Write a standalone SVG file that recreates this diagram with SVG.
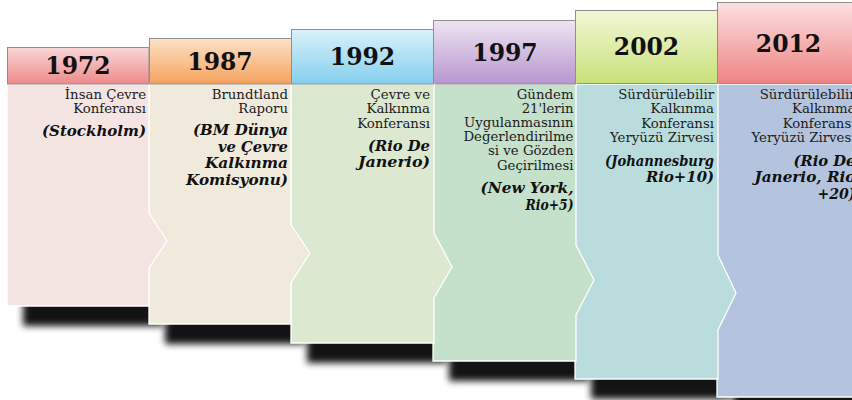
<svg xmlns="http://www.w3.org/2000/svg" width="852" height="400" viewBox="0 0 852 400">
<defs>
<filter id="sh" x="-20%" y="-60%" width="140%" height="220%"><feGaussianBlur stdDeviation="3.5"/></filter>
<linearGradient id="g1" x1="0" y1="0" x2="0" y2="1"><stop offset="0" stop-color="#f9d6d6"/><stop offset="1" stop-color="#ee8a8b"/></linearGradient>
<linearGradient id="g2" x1="0" y1="0" x2="0" y2="1"><stop offset="0" stop-color="#fde2c8"/><stop offset="1" stop-color="#f5a25c"/></linearGradient>
<linearGradient id="g3" x1="0" y1="0" x2="0" y2="1"><stop offset="0" stop-color="#daf1fa"/><stop offset="1" stop-color="#84cfee"/></linearGradient>
<linearGradient id="g4" x1="0" y1="0" x2="0" y2="1"><stop offset="0" stop-color="#eee4f2"/><stop offset="1" stop-color="#b796cf"/></linearGradient>
<linearGradient id="g5" x1="0" y1="0" x2="0" y2="1"><stop offset="0" stop-color="#f2f7d6"/><stop offset="1" stop-color="#c8e17a"/></linearGradient>
<linearGradient id="g6" x1="0" y1="0" x2="0" y2="1"><stop offset="0" stop-color="#fce0e0"/><stop offset="1" stop-color="#ef8383"/></linearGradient>
</defs>
<style>
.hd{stroke:#8f8f8f;stroke-width:1}
.bd{stroke:#ffffff;stroke-width:1.3}
.yr{font-family:"DejaVu Serif","Liberation Serif",serif;font-weight:bold;font-size:23.5px;fill:#111;text-anchor:middle}
.t{font-family:"DejaVu Serif","Liberation Serif",serif;font-size:13.3px;fill:#1c1c1c;text-anchor:end}
.b{font-family:"DejaVu Serif","Liberation Serif",serif;font-size:15px;font-weight:bold;font-style:italic;fill:#111;text-anchor:end}
.shd{fill:#000;opacity:0.92;filter:url(#sh)}
</style>
<rect width="852" height="400" fill="#ffffff"/>
<g id="shadows">
<rect class="shd" x="23" y="276" width="140" height="50"/>
<rect class="shd" x="165" y="294" width="140" height="50"/>
<rect class="shd" x="307" y="313" width="140" height="50"/>
<rect class="shd" x="449" y="331" width="140" height="50"/>
<rect class="shd" x="591" y="349" width="140" height="50"/>
<rect class="shd" x="733" y="367" width="140" height="50"/>
</g>
<g id="connectors"></g>
<g id="n2012">
<polygon class="bd" fill="#b4c4de" points="717,84 870,84 870,397 717,397"/>
<rect class="hd" x="717.5" y="2.5" width="150" height="81" fill="url(#g6)"/>
<text class="yr" x="788.5" y="52">2012</text>
<text class="t" x="855.5" y="99">Sürdürülebilir</text>
<text class="t" x="855.5" y="113">Kalkınma</text>
<text class="t" x="855.5" y="127.5">Konferansı</text>
<text class="t" x="855.5" y="142">Yeryüzü Zirvesi</text>
<text class="b" x="855.5" y="165.5" textLength="62" lengthAdjust="spacingAndGlyphs">(Rio De</text>
<text class="b" x="855.5" y="182" textLength="101" lengthAdjust="spacingAndGlyphs">Janerio, Rio</text>
<text class="b" x="855.5" y="198.5" textLength="38" lengthAdjust="spacingAndGlyphs">+20)</text>
</g>
<g id="n2002">
<polygon class="bd" fill="#badcdc" points="575,84 718,84 718,255 736,293 718,330 718,379 575,379"/>
<rect class="hd" x="575.5" y="10.5" width="142" height="73" fill="url(#g5)"/>
<text class="yr" x="646.5" y="55">2002</text>
<text class="t" x="714" y="99">Sürdürülebilir</text>
<text class="t" x="714" y="113">Kalkınma</text>
<text class="t" x="714" y="127.5">Konferansı</text>
<text class="t" x="714" y="142">Yeryüzü Zirvesi</text>
<text class="b" x="714" y="165.5" textLength="109" lengthAdjust="spacingAndGlyphs">(Johannesburg</text>
<text class="b" x="714" y="182" textLength="68" lengthAdjust="spacingAndGlyphs">Rio+10)</text>
</g>
<g id="n1997">
<polygon class="bd" fill="#c5e0cb" points="433,84 576,84 576,245 594,280 576,315 576,361 433,361"/>
<rect class="hd" x="433.5" y="20.5" width="142" height="63.5" fill="url(#g4)"/>
<text class="yr" x="505" y="61">1997</text>
<text class="t" x="573.5" y="98.5">Gündem</text>
<text class="t" x="573.5" y="112.7">21'lerin</text>
<text class="t" x="573.5" y="127">Uygulanmasının</text>
<text class="t" x="573.5" y="141.2">Değerlendirilme</text>
<text class="t" x="573.5" y="155.4">si ve Gözden</text>
<text class="t" x="573.5" y="169.7">Geçirilmesi</text>
<text class="b" x="573.5" y="193" textLength="93" lengthAdjust="spacingAndGlyphs">(New York,</text>
<text class="b" x="573.5" y="209.5" textLength="48" lengthAdjust="spacingAndGlyphs">Rio+5)</text>
</g>
<g id="n1992">
<polygon class="bd" fill="#dde8d1" points="291,84 434,84 434,233 452,267 434,298 434,343 291,343"/>
<rect class="hd" x="291.5" y="29.5" width="142" height="54.5" fill="url(#g3)"/>
<text class="yr" x="362.5" y="65">1992</text>
<text class="t" x="430" y="99">Çevre ve</text>
<text class="t" x="430" y="113.3">Kalkınma</text>
<text class="t" x="430" y="127.6">Konferansı</text>
<text class="b" x="430" y="150.5" textLength="62" lengthAdjust="spacingAndGlyphs">(Rio De</text>
<text class="b" x="430" y="167" textLength="72" lengthAdjust="spacingAndGlyphs">Janerio)</text>
</g>
<g id="n1987">
<polygon class="bd" fill="#f0eadd" points="149,84 291,84 291,225 310,253 291,283 291,324 149,324"/>
<rect class="hd" x="149.5" y="38.5" width="142" height="45.5" fill="url(#g2)"/>
<text class="yr" x="220" y="70">1987</text>
<text class="t" x="288" y="99">Brundtland</text>
<text class="t" x="288" y="113">Raporu</text>
<text class="b" x="288" y="135" textLength="95" lengthAdjust="spacingAndGlyphs">(BM Dünya</text>
<text class="b" x="288" y="151.7" textLength="70" lengthAdjust="spacingAndGlyphs">ve Çevre</text>
<text class="b" x="288" y="168.3" textLength="83" lengthAdjust="spacingAndGlyphs">Kalkınma</text>
<text class="b" x="288" y="185" textLength="102" lengthAdjust="spacingAndGlyphs">Komisyonu)</text>
</g>
<g id="n1972">
<polygon class="bd" fill="#f4e5e3" points="7,84 149,84 149,213 167,241 149,268 149,306 7,306"/>
<rect class="hd" x="7.5" y="47.5" width="141.5" height="36.5" fill="url(#g1)"/>
<text class="yr" x="78" y="74">1972</text>
<text class="t" x="146" y="99.3">İnsan Çevre</text>
<text class="t" x="146" y="113.3">Konferansı</text>
<text class="b" x="146" y="136" textLength="104" lengthAdjust="spacingAndGlyphs">(Stockholm)</text>
</g>
</svg>
